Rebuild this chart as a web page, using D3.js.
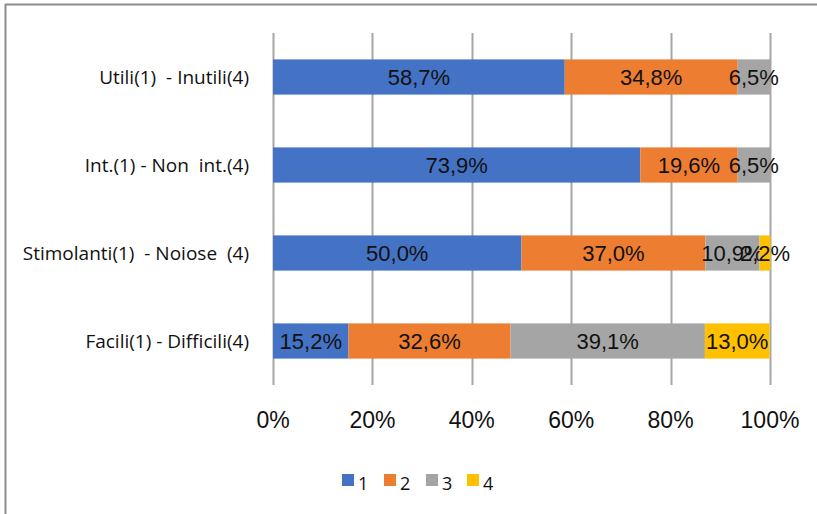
<!DOCTYPE html>
<html>
<head>
<meta charset="utf-8">
<script src="https://cdn.jsdelivr.net/npm/d3@7"></script>
<style>
  body { margin: 0; background: #fff; }
  svg { display: block; }
</style>
</head>
<body>
<div id="chart"></div>
<script>
// categories, top to bottom
var categories = ["Utili(1)  - Inutili(4)", "Int.(1) - Non  int.(4)", "Stimolanti(1)  - Noiose  (4)", "Facili(1) - Difficili(4)"];
var seriesNames = ["1", "2", "3", "4"];
var s1 = [58.7, 73.9, 50.0, 15.2];
var s2 = [34.8, 19.6, 37.0, 32.6];
var s3 = [6.5, 6.5, 10.9, 39.1];
var s4 = [0, 0, 2.2, 13.0];
var tickValues = [0, 20, 40, 60, 80, 100];
var colors = ["#4472c4", "#ed7d31", "#a5a5a5", "#ffc000"];

var width = 817, height = 514;
var margin = { left: 273, right: 47, top: 33, bottom: 129 };

var svg = d3.select("#chart").append("svg")
    .attr("width", width)
    .attr("height", height);

// chart frame (only top and left visible)
svg.append("line").attr("x1", 5).attr("x2", width).attr("y1", 4.5).attr("y2", 4.5)
    .style("stroke", "#8c8c8c").style("stroke-width", 2);
svg.append("line").attr("x1", 5.5).attr("x2", 5.5).attr("y1", 4).attr("y2", height)
    .style("stroke", "#8c8c8c").style("stroke-width", 2);

var x = d3.scaleLinear().domain([0, 100]).range([margin.left, width - margin.right]);
var y = d3.scaleBand().domain(categories)
    .range([margin.top, height - margin.bottom])
    .paddingInner(0.6).paddingOuter(0.3);

// gridlines
svg.selectAll(".grid")
    .data(tickValues)
    .enter().append("line")
    .attr("class", "grid")
    .attr("x1", function (d) { return Math.round(x(d)) + 0.5; })
    .attr("x2", function (d) { return Math.round(x(d)) + 0.5; })
    .attr("y1", margin.top)
    .attr("y2", height - margin.bottom)
    .style("stroke", "#a6a6a6")
    .style("stroke-width", 2);

// stacked data
var rows = categories.map(function (c, i) {
    return { cat: c, "1": s1[i], "2": s2[i], "3": s3[i], "4": s4[i] };
});
var stack = d3.stack().keys(seriesNames)(rows);

var layer = svg.selectAll(".layer")
    .data(stack)
    .enter().append("g")
    .attr("class", "layer")
    .style("fill", function (d, i) { return colors[i]; });

layer.selectAll("rect")
    .data(function (d) { return d; })
    .enter().append("rect")
    .attr("x", function (d) { return x(d[0]); })
    .attr("y", function (d) { return y(d.data.cat); })
    .attr("width", function (d) { return x(d[1]) - x(d[0]); })
    .attr("height", y.bandwidth());

// data labels
layer.selectAll("text")
    .data(function (d) { return d.filter(function (p) { return p[1] - p[0] > 0; }); })
    .enter().append("text")
    .attr("x", function (d) { return (x(d[0]) + x(d[1])) / 2; })
    .attr("y", function (d) { return y(d.data.cat) + y.bandwidth() / 2; })
    .attr("dy", ".36em")
    .style("text-anchor", "middle")
    .style("font-family", "Liberation Sans, Arial, sans-serif")
    .style("font-size", "22px")
    .style("fill", "#111")
    .text(function (d) { return d3.format(".1f")(d[1] - d[0]).replace(".", ",") + "%"; });

// bottom axis labels
svg.selectAll(".tick-label")
    .data(tickValues)
    .enter().append("text")
    .attr("class", "tick-label")
    .attr("x", function (d) { return x(d); })
    .attr("y", 428)
    .style("text-anchor", "middle")
    .style("font-family", "Liberation Sans, Arial, sans-serif")
    .style("font-size", "23px")
    .style("fill", "#111")
    .text(function (d) { return d + "%"; });

// category labels
svg.selectAll(".cat-label")
    .data(categories)
    .enter().append("text")
    .attr("class", "cat-label")
    .attr("x", 249)
    .attr("y", function (d) { return y(d) + y.bandwidth() / 2; })
    .attr("dy", ".36em")
    .attr("xml:space", "preserve")
    .style("white-space", "pre")
    .style("text-anchor", "end")
    .style("font-family", "Open Sans, sans-serif")
    .style("font-size", "19px")
    .style("fill", "#111")
    .text(function (d) { return d; });

// legend
var legendX = [342, 384, 426, 467];
var legend = svg.selectAll(".legend")
    .data(seriesNames)
    .enter().append("g")
    .attr("class", "legend")
    .attr("transform", function (d, i) { return "translate(" + legendX[i] + ",0)"; });

legend.append("rect")
    .attr("x", 0)
    .attr("y", 474)
    .attr("width", 12)
    .attr("height", 12)
    .style("fill", function (d, i) { return colors[i]; });

legend.append("text")
    .attr("x", 16)
    .attr("y", 490)
    .style("font-family", "Open Sans, sans-serif")
    .style("font-size", "18px")
    .style("fill", "#111")
    .text(function (d) { return d; });
</script>
</body>
</html>
